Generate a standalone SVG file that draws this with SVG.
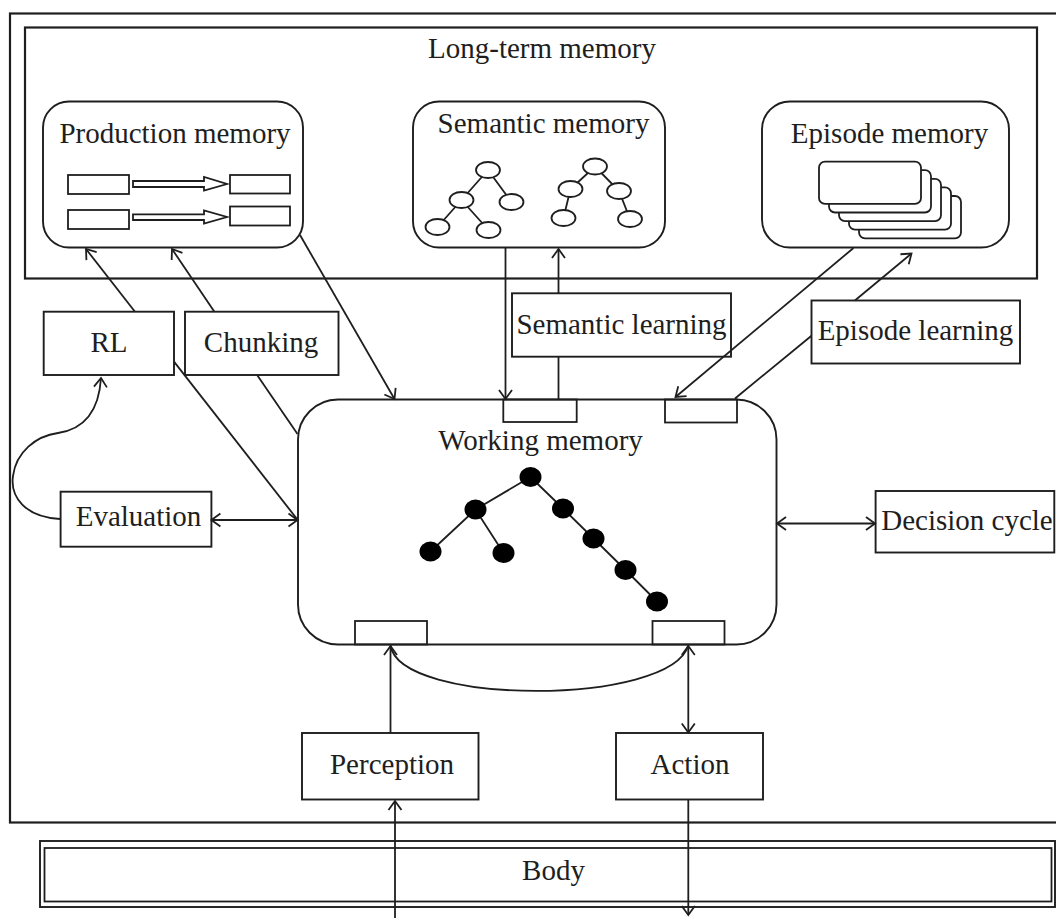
<svg xmlns="http://www.w3.org/2000/svg" width="1056" height="918" viewBox="0 0 1056 918">
<defs>
<style>
.frame{fill:none;stroke:#1e1e1e;stroke-width:2.2}
.box{fill:#fff;stroke:#1e1e1e;stroke-width:1.9}
.ln{fill:none;stroke:#1e1e1e;stroke-width:1.8}
.ov{fill:#fff;stroke:#1e1e1e;stroke-width:1.8}
.dot{fill:#000}
.t{font-family:"Liberation Serif","Times New Roman",serif;font-size:29px;fill:#1e1e1e;text-anchor:middle}
</style>
<marker id="arr" viewBox="-12 -8 14 16" refX="0" refY="0" markerWidth="14" markerHeight="16" markerUnits="userSpaceOnUse" orient="auto-start-reverse" overflow="visible">
<path d="M-9,-6.5 L0,0 L-9,6.5" fill="none" stroke="#1e1e1e" stroke-width="1.8"/>
</marker>
</defs>
<rect width="1056" height="918" fill="#fff"/>

<g id="outer-frame">
<rect class="frame" x="10" y="13.5" width="1060" height="809"/>
</g>

<g id="long-term-memory">
<rect class="frame" x="25" y="27.5" width="1012" height="251"/>
<text class="t" x="542" y="58">Long-term memory</text>
</g>

<g id="production-memory">
<rect class="box" x="43" y="101.5" width="260" height="146" rx="26"/>
<text class="t" x="175" y="142.5">Production memory</text>
<rect class="ln" x="68" y="175" width="61" height="19"/>
<rect class="ln" x="230" y="175" width="60" height="18.5"/>
<path class="ln" d="M133,181 L204,181 L204,177 L227,184 L204,190.5 L204,187 L133,187 Z"/>
<rect class="ln" x="68" y="210" width="61" height="19"/>
<rect class="ln" x="230" y="206.5" width="60" height="19"/>
<path class="ln" d="M133,214.3 L204,214.3 L204,210.5 L227,217 L204,223.5 L204,220 L133,220 Z"/>
</g>

<g id="semantic-memory">
<rect class="box" x="413" y="101.5" width="252" height="146" rx="26"/>
<text class="t" x="543.5" y="133">Semantic memory</text>
<path class="ln" d="M488,170 L461.5,200 L437.5,227 M461.5,200 L488.5,230 M488,170 L511.5,202 M595,166.5 L570.5,189 L563.5,218 M595,166.5 L619,191 L630,219"/>
<ellipse class="ov" cx="488" cy="170" rx="12" ry="8"/>
<ellipse class="ov" cx="461.5" cy="200" rx="12" ry="8"/>
<ellipse class="ov" cx="511.5" cy="202" rx="12" ry="8"/>
<ellipse class="ov" cx="437.5" cy="227" rx="12" ry="8"/>
<ellipse class="ov" cx="488.5" cy="230" rx="12" ry="8"/>
<ellipse class="ov" cx="595" cy="166.5" rx="12" ry="8"/>
<ellipse class="ov" cx="570.5" cy="189" rx="12" ry="8"/>
<ellipse class="ov" cx="619" cy="191" rx="12" ry="8"/>
<ellipse class="ov" cx="563.5" cy="218" rx="12" ry="8"/>
<ellipse class="ov" cx="630" cy="219" rx="12" ry="8"/>
</g>

<g id="episode-memory">
<rect class="box" x="762" y="101.5" width="247" height="146" rx="28"/>
<text class="t" x="889.5" y="142.5">Episode memory</text>
<rect class="ov" x="859" y="196" width="102" height="42.3" rx="6"/>
<rect class="ov" x="849" y="187.4" width="102" height="42.3" rx="6"/>
<rect class="ov" x="839" y="178.8" width="102" height="42.3" rx="6"/>
<rect class="ov" x="829" y="170.2" width="102" height="42.3" rx="6"/>
<rect class="ov" x="819" y="161.6" width="102" height="42.3" rx="6"/>
</g>

<g id="rl">
<rect class="box" x="43.7" y="311.7" width="130.3" height="63.3"/>
<text class="t" x="109" y="351.5">RL</text>
</g>

<g id="chunking">
<rect class="box" x="185" y="311.7" width="153.5" height="63.3"/>
<text class="t" x="261" y="351.5">Chunking</text>
</g>

<g id="semantic-learning">
<rect class="box" x="512" y="293.3" width="219" height="63.4"/>
<text class="t" x="621.5" y="333.5">Semantic learning</text>
</g>

<g id="episode-learning">
<rect class="box" x="811.5" y="300.5" width="208.5" height="63"/>
<text class="t" x="915.5" y="340">Episode learning</text>
</g>

<g id="working-memory">
<rect class="box" x="298" y="399.5" width="478.5" height="245" rx="40"/>
<rect class="ln" x="503.3" y="399.5" width="73.4" height="22.5"/>
<rect class="ln" x="665" y="399.5" width="72" height="23"/>
<rect class="ln" x="355" y="621" width="72" height="23.5"/>
<rect class="ln" x="652.5" y="621" width="72" height="23.5"/>
<text class="t" x="540.5" y="450">Working memory</text>
<path class="ln" d="M530.5,477 L475.5,509.5 L430.5,551.5 M475.5,509.5 L503.5,553 M530.5,477 L563,508.5 L593.5,538.5 L625.5,570 L657,601.5"/>
<ellipse class="dot" cx="530.5" cy="477" rx="11" ry="10"/>
<ellipse class="dot" cx="475.5" cy="509.5" rx="11" ry="10"/>
<ellipse class="dot" cx="430.5" cy="551.5" rx="11" ry="10"/>
<ellipse class="dot" cx="503.5" cy="553" rx="11" ry="10"/>
<ellipse class="dot" cx="563" cy="508.5" rx="11" ry="10"/>
<ellipse class="dot" cx="593.5" cy="538.5" rx="11" ry="10"/>
<ellipse class="dot" cx="625.5" cy="570" rx="11" ry="10"/>
<ellipse class="dot" cx="657" cy="601.5" rx="11" ry="10"/>
</g>

<g id="evaluation">
<rect class="box" x="60.6" y="491.7" width="150.8" height="55"/>
<text class="t" x="138.5" y="526">Evaluation</text>
</g>

<g id="decision-cycle">
<rect class="box" x="875.6" y="491" width="178.7" height="61.5"/>
<text class="t" x="967" y="529.5">Decision cycle</text>
</g>

<g id="perception">
<rect class="box" x="302" y="733" width="176.5" height="66.5"/>
<text class="t" x="392" y="774">Perception</text>
</g>

<g id="action">
<rect class="box" x="616" y="733" width="147" height="66.5"/>
<text class="t" x="690" y="774">Action</text>
</g>

<g id="body">
<rect class="box" x="40" y="841" width="1015" height="66"/>
<rect class="ln" x="44.5" y="848" width="1007" height="53.5"/>
<text class="t" x="553.5" y="880">Body</text>
</g>

<g id="connectors">
<path class="ln" d="M135,311.7 L86,249" marker-end="url(#arr)"/>
<path class="ln" d="M174,361.6 L297,519"/>
<path class="ln" d="M214.4,311.7 L172,249" marker-end="url(#arr)"/>
<path class="ln" d="M257.1,375 L297.5,434"/>
<path class="ln" d="M300,235 L394.5,399" marker-end="url(#arr)"/>
<path class="ln" d="M505.5,247.5 L505.5,399" marker-end="url(#arr)"/>
<path class="ln" d="M558.5,399.5 L558.5,356.7"/>
<path class="ln" d="M558.5,293.3 L558.5,249" marker-end="url(#arr)"/>
<path class="ln" d="M853.5,248 L675.5,397" marker-end="url(#arr)"/>
<path class="ln" d="M735,398.5 L811.5,335.7"/>
<path class="ln" d="M854.9,300.5 L911.5,253.5" marker-end="url(#arr)"/>
<path class="ln" d="M211.4,520 L297.5,520" marker-start="url(#arr)" marker-end="url(#arr)"/>
<path class="ln" d="M777,523.5 L875,523.5" marker-start="url(#arr)" marker-end="url(#arr)"/>
<path class="ln" d="M60,519 C25,517 10,497 13,476 C16,452 36,436 58,433 C85,429 99,410 101,378" marker-end="url(#arr)"/>
<path class="ln" d="M390.5,733 L390.5,646" marker-end="url(#arr)"/>
<path class="ln" d="M390.5,645.5 C400,706 670,706 688.3,645.5"/>
<path class="ln" d="M688.3,646 L688.3,732.5" marker-start="url(#arr)" marker-end="url(#arr)"/>
<path class="ln" d="M395,918 L395,801" marker-end="url(#arr)"/>
<path class="ln" d="M688.3,800 L688.3,915" marker-end="url(#arr)"/>
</g>
</svg>
